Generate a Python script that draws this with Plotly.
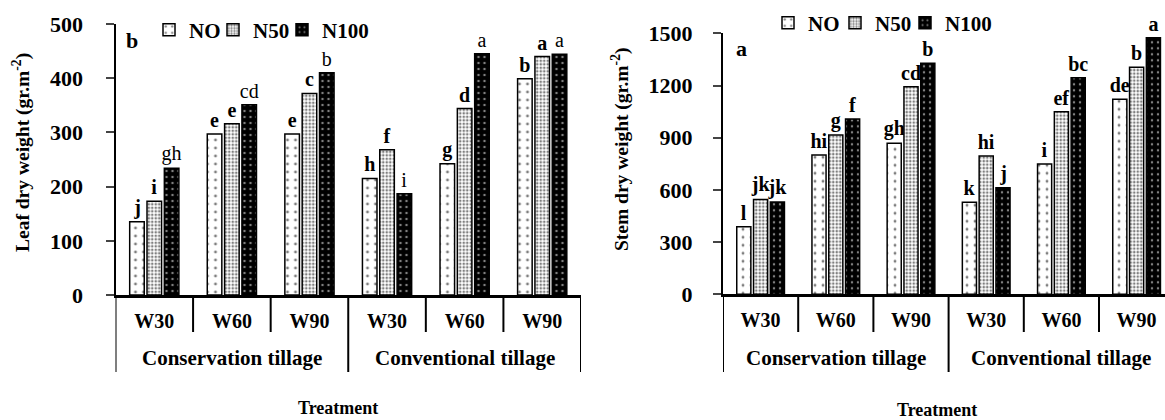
import plotly.graph_objects as go

# ---------------- data ----------------
tillage = ["Conservation tillage", "Conventional tillage"]
water = ["W30", "W60", "W90", "W30", "W60", "W90"]
series = ["NO", "N50", "N100"]

leaf_NO = [135, 297, 297, 215, 242, 399]
leaf_N50 = [173, 316, 372, 268, 344, 440]
leaf_N100 = [234, 351, 410, 187, 445, 444]
leaf_let_NO = ["j", "e", "e", "h", "g", "b"]
leaf_let_N50 = ["i", "e", "c", "f", "d", "a"]
leaf_let_N100 = ["gh", "cd", "b", "i", "a", "a"]

stem_NO = [388, 800, 868, 529, 749, 1121]
stem_N50 = [545, 915, 1193, 795, 1049, 1305]
stem_N100 = [531, 1007, 1328, 613, 1245, 1475]
stem_let_NO = ["l", "hi", "gh", "k", "i", "de"]
stem_let_N50 = ["jk", "g", "cd", "hi", "ef", "b"]
stem_let_N100 = ["jk", "f", "b", "j", "bc", "a"]

leaf_ticks = [0, 100, 200, 300, 400, 500]
stem_ticks = [0, 300, 600, 900, 1200, 1500]

# ---------------- style ----------------
FONT = "Liberation Serif"
W, H = 1165, 420
patterns = {
    "NO": dict(shape=".", size=8, solidity=0.1, fgcolor="black", bgcolor="white", fillmode="overlay"),
    "N50": dict(shape=".", size=3.5, solidity=0.45, fgcolor="black", bgcolor="white", fillmode="overlay"),
    "N100": dict(shape=".", size=6, solidity=0.14, fgcolor="white", bgcolor="black", fillmode="overlay"),
}
bg = {"NO": "white", "N50": "white", "N100": "black"}


def f(size, bold=True):
    d = dict(family=FONT, size=size, color="black")
    if bold:
        d["weight"] = "bold"
    return d


xs = list(range(len(water)))
fig = go.Figure()

# legend item positions (left edge of each legend entry, px) and row centre (px)
panels = [
    dict(xa="x", ya="y",
         vals=[leaf_NO, leaf_N50, leaf_N100],
         lets=[leaf_let_NO, leaf_let_N50, leaf_let_N100],
         bold=[True, True, False],
         leg_x=[149, 213, 282], leg_y=30),
    dict(xa="x2", ya="y2",
         vals=[stem_NO, stem_N50, stem_N100],
         lets=[stem_let_NO, stem_let_N50, stem_let_N100],
         bold=[True, True, True],
         leg_x=[768, 835, 905], leg_y=23),
]

legends = {}
k = 0
for p in panels:
    for name, v, lt, b, lx in zip(series, p["vals"], p["lets"], p["bold"], p["leg_x"]):
        k += 1
        lid = "legend" if k == 1 else f"legend{k}"
        legends[lid] = dict(orientation="h", x=lx / W, xanchor="left", y=(H - p["leg_y"]) / H,
                            yanchor="middle", font=f(21), bgcolor="rgba(0,0,0,0)", itemwidth=30)
        txt = [f"<b>{t}</b>" if b else t for t in lt]
        fig.add_trace(go.Bar(
            x=xs, y=v, name=name, xaxis=p["xa"], yaxis=p["ya"], legend=lid, showlegend=True,
            marker=dict(color=bg[name], line=dict(color="black", width=1.5), pattern=patterns[name]),
            text=txt, textposition="outside", constraintext="none", cliponaxis=False,
            textfont=f(20, bold=False),
        ))

# axes geometry (pixel positions in the 1165x420 picture)
y0 = 295
left_x = (115.5 / W, 581 / W)
right_x = (723 / W, 1.0)
right_cat_px = 75.2

axis_common = dict(showline=True, linecolor="black", showgrid=False, zeroline=False, automargin=False)
fig.update_layout(
    width=W, height=H, margin=dict(l=0, r=0, t=0, b=0), autosize=False, showlegend=True,
    paper_bgcolor="white", plot_bgcolor="white",
    barmode="group", bargap=0.33, bargroupgap=0.16,
    font=dict(family=FONT, color="black"),
    xaxis=dict(domain=list(left_x), range=[-0.5, 5.5], tickvals=xs, ticktext=water, ticks="",
               tickfont=f(20), linewidth=2.5, ticklabelstandoff=6, **axis_common),
    yaxis=dict(domain=[(H - y0) / H, (H - 24) / H], range=[0, 500], tickvals=leaf_ticks,
               ticks="outside", ticklen=8, tickwidth=2, linewidth=2,
               tickfont=f(22), ticklabelstandoff=18, **axis_common),
    xaxis2=dict(domain=list(right_x), range=[-0.5, -0.5 + (W - 723) / right_cat_px], tickvals=xs,
                ticktext=water, ticks="", anchor="y2",
                tickfont=f(20), linewidth=2.5, ticklabelstandoff=6, **axis_common),
    yaxis2=dict(domain=[(H - 294.3) / H, (H - 33.3) / H], range=[0, 1500], tickvals=stem_ticks, anchor="x2",
                ticks="outside", ticklen=8, tickwidth=2, linewidth=2,
                tickfont=f(22), ticklabelstandoff=16, **axis_common),
    **legends,
)

# category separators
short_y = (H - 332) / H
long_y = (H - 372) / H
for xa, ya_dom in [("x", (H - y0) / H), ("x2", (H - 294.3) / H)]:
    for bnd in [-0.5, 2.5, 5.5]:
        fig.add_shape(type="line", xref=xa, yref="paper", x0=bnd, x1=bnd, y0=ya_dom, y1=long_y,
                      line=dict(color="black", width=2))
    for bnd in [0.5, 1.5, 3.5, 4.5]:
        fig.add_shape(type="line", xref=xa, yref="paper", x0=bnd, x1=bnd, y0=ya_dom, y1=short_y,
                      line=dict(color="black", width=2))

# tillage labels
for xa in ["x", "x2"]:
    for i, t in enumerate(tillage):
        fig.add_annotation(text=t, xref=xa, yref="paper", x=1 + 3 * i, y=(H - 358) / H,
                           showarrow=False, font=f(21), xanchor="center", yanchor="middle")

# axis titles
fig.add_annotation(text="Treatment", xref="paper", yref="paper", x=338 / W, y=(H - 408) / H,
                   showarrow=False, font=f(18), xanchor="center", yanchor="middle")
fig.add_annotation(text="Treatment", xref="paper", yref="paper", x=937 / W, y=(H - 410) / H,
                   showarrow=False, font=f(18), xanchor="center", yanchor="middle")
fig.add_annotation(text="Leaf dry weight (gr.m<sup>-2</sup>)", xref="paper", yref="paper",
                   x=21 / W, y=(H - 153) / H, textangle=-90, showarrow=False, font=f(19.5),
                   xanchor="center", yanchor="middle")
fig.add_annotation(text="Stem dry weight (gr.m<sup>-2</sup>)", xref="paper", yref="paper",
                   x=621 / W, y=(H - 150) / H, textangle=-90, showarrow=False, font=f(19.5),
                   xanchor="center", yanchor="middle")

# panel letters
fig.add_annotation(text="b", xref="paper", yref="paper", x=124 / W, y=(H - 40) / H,
                   showarrow=False, font=f(22), xanchor="left", yanchor="middle")
fig.add_annotation(text="a", xref="paper", yref="paper", x=734 / W, y=(H - 48) / H,
                   showarrow=False, font=f(22), xanchor="left", yanchor="middle")

fig.write_html("out.html", config={"displayModeBar": False},
               post_script="document.body.style.margin='0px';")
